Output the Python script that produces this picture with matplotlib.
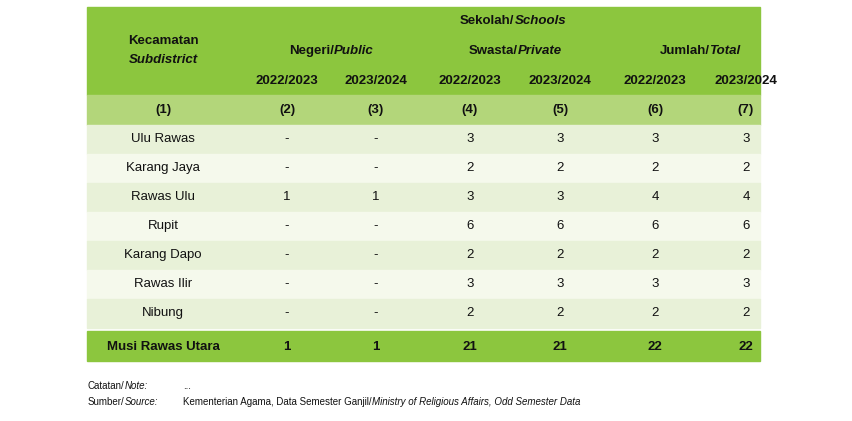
import matplotlib.pyplot as plt
from matplotlib.patches import Rectangle

plt.rcParams['font.family'] = 'Liberation Sans'

subdistricts = ['Ulu Rawas', 'Karang Jaya', 'Rawas Ulu', 'Rupit', 'Karang Dapo', 'Rawas Ilir', 'Nibung']
negeri_2223 = ['-', '-', '1', '-', '-', '-', '-']
negeri_2324 = ['-', '-', '1', '-', '-', '-', '-']
swasta_2223 = ['3', '2', '3', '6', '2', '3', '2']
swasta_2324 = ['3', '2', '3', '6', '2', '3', '2']
jumlah_2223 = ['3', '2', '4', '6', '2', '3', '2']
jumlah_2324 = ['3', '2', '4', '6', '2', '3', '2']
total_row = ['Musi Rawas Utara', '1', '1', '21', '21', '22', '22']
years = ['2022/2023', '2023/2024'] * 3
col_nums = ['(1)', '(2)', '(3)', '(4)', '(5)', '(6)', '(7)']

W, H = 853, 421
fig = plt.figure(figsize=(W / 100, H / 100), dpi=100)
ax = fig.add_axes([0, 0, 1, 1])
ax.set_xlim(0, W)
ax.set_ylim(H, 0)
ax.axis('off')
renderer = fig.canvas.get_renderer()

x0, x1 = 87, 760
xc = [163, 287, 376, 470, 560, 655, 746]
green, light, row_a, row_b = '#8cc63e', '#b3d67a', '#e8f1d8', '#f5f9ec'

ax.add_patch(Rectangle((x0, 7), x1 - x0, 88, color=green))
ax.add_patch(Rectangle((x0, 95), x1 - x0, 30, color=light))
for i in range(7):
    ax.add_patch(Rectangle((x0, 125 + 29 * i), x1 - x0, 29, color=row_a if i % 2 == 0 else row_b))
ax.add_patch(Rectangle((x0, 331), x1 - x0, 30, color=green))

fs = 9.5
def t(x, y, s, **kw):
    return ax.text(x, y, s, ha='center', va='center', fontsize=fs, color='#111111', **kw)

def two_part(cx, y, a, b, size=fs, ha='center', bold=True):
    # normal part + italic part drawn side by side
    w = 'bold' if bold else 'normal'
    ta = ax.text(0, y, a, fontsize=size, weight=w, va='center', color='#111111')
    tb = ax.text(0, y, b, fontsize=size, weight=w, style='italic', va='center', color='#111111')
    wa = ta.get_window_extent(renderer).width
    wb = tb.get_window_extent(renderer).width
    left = cx - (wa + wb) / 2 if ha == 'center' else cx
    ta.set_x(left)
    tb.set_x(left + wa)

t(xc[0], 41, 'Kecamatan', weight='bold')
t(xc[0], 60, 'Subdistrict', weight='bold', style='italic')
two_part(513, 21, 'Sekolah/', 'Schools')
for cx, a, b in [(331, 'Negeri/', 'Public'), (515, 'Swasta/', 'Private'), (700, 'Jumlah/', 'Total')]:
    two_part(cx, 51, a, b)
for cx, y in zip(xc[1:], years):
    t(cx, 81, y, weight='bold')
for cx, s in zip(xc, col_nums):
    t(cx, 110, s, weight='bold')

cols = [subdistricts, negeri_2223, negeri_2324, swasta_2223, swasta_2324, jumlah_2223, jumlah_2324]
for i in range(7):
    for cx, col in zip(xc, cols):
        t(cx, 139 + 29 * i, col[i])
for cx, s in zip(xc, total_row):
    t(cx, 347, s, weight='bold')

two_part(88, 386, 'Catatan/', 'Note:', size=7, ha='left', bold=False)
ax.text(183, 386, '...', fontsize=7, va='center')
two_part(88, 402, 'Sumber/', 'Source:', size=7, ha='left', bold=False)
two_part(183, 402, 'Kementerian Agama, Data Semester Ganjil/',
         'Ministry of Religious Affairs, Odd Semester Data', size=7, ha='left', bold=False)

fig.savefig('out.png', dpi=100)
